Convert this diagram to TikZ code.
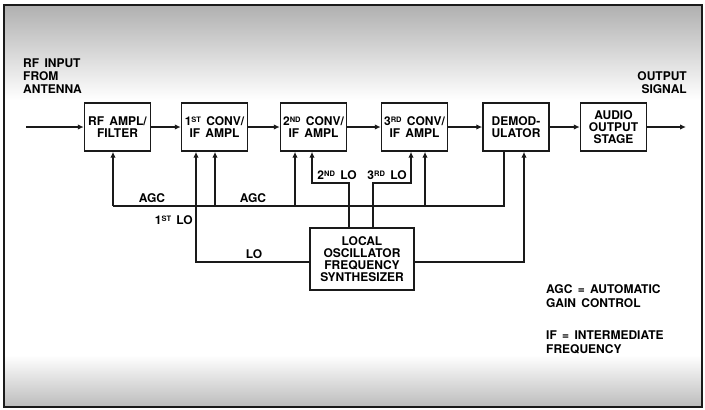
\documentclass[tikz,border=0pt]{standalone}
\usepackage{fontspec}
\setmainfont{TeX Gyre Heros}[WordSpace=1.6]
\usetikzlibrary{arrows.meta}
\definecolor{rxline}{HTML}{1A1A1A}
\definecolor{rxshade}{HTML}{B0B0B0}
\newcommand\ordsup[1]{\raisebox{3pt}{\fontsize{7.5}{7.5}\selectfont #1}}

\begin{document}
\begin{tikzpicture}[x=1pt, y=-1pt,
        box/.style={draw=rxline, line width=1.4pt, fill=white, align=center,
                    minimum width=66pt, minimum height=48pt, inner sep=1pt,
                    font=\bfseries\fontsize{12}{12}\selectfont},
        synbox/.style={box, minimum width=104pt, minimum height=62pt},
        lbl/.style={align=left, inner sep=0pt, font=\bfseries\fontsize{12}{13}\selectfont},
        note/.style={lbl, anchor=west, font=\bfseries\fontsize{12}{14}\selectfont},
        wire/.style={draw=rxline, line width=1.4pt},
        arrow/.style={wire, -{Latex[length=6pt,width=5.5pt]}}
      ]
        \useasboundingbox (0,0) rectangle (705,410);
        \shade[top color=rxshade, bottom color=white] (4,5) rectangle (702,100);
        \shade[top color=white, bottom color=rxshade!85] (4,355) rectangle (702,407);
        \draw[rxline, line width=1.5pt] (4,5) rectangle (702,407);

        \node[box]    (rfamp) at (117.5,127) {RF AMPL/\\FILTER};
        \node[box]    (conv1) at (214.5,127) {1\ordsup{ST} CONV/\\IF AMPL};
        \node[box]    (conv2) at (313.5,127) {2\ordsup{ND} CONV/\\IF AMPL};
        \node[box]    (conv3) at (414.5,127) {3\ordsup{RD} CONV/\\IF AMPL};
        \node[box]    (demod) at (516,127)   {DEMOD-\\ULATOR};
        \node[box]    (audio) at (613.5,127) {AUDIO\\OUTPUT\\STAGE};
        \node[synbox] (synth) at (362,259)   {LOCAL\\OSCILLATOR\\FREQUENCY\\SYNTHESIZER};

        \node[lbl, anchor=west] (rfin) at (23,76) {RF INPUT\\FROM\\ANTENNA};
        \node[lbl, anchor=east, align=right] (outsig) at (687,82.5) {OUTPUT\\SIGNAL};
        \coordinate (in)  at (26,127);
        \coordinate (out) at (686,127);

        \draw[arrow] (in)    -- (rfamp);
        \draw[arrow] (rfamp) -- (conv1);
        \draw[arrow] (conv1) -- (conv2);
        \draw[arrow] (conv2) -- (conv3);
        \draw[arrow] (conv3) -- (demod);
        \draw[arrow] (demod) -- (audio);
        \draw[arrow] (audio) -- (out);

        % AGC bus
        \coordinate (agcl) at (113,206);
        \coordinate (agcr) at (504,206);
        \draw[wire] (agcr |- demod.south) -- (agcr) -- (agcl);
        \foreach \x/\b in {113/rfamp,215/conv1,295/conv2,425/conv3}
          \draw[arrow] (\x,206) -- (\x,206 |- \b.south);

        % local oscillator feeds
        \draw[arrow] (synth.west |- 0,262) -| (196,0 |- conv1.south);
        \draw[arrow] (synth.east |- 0,262) -| (524,0 |- demod.south);
        \draw[arrow] (349,0 |- synth.north) |- (312,183) -- (312,0 |- conv2.south);
        \draw[arrow] (373,0 |- synth.north) |- (411,183) -- (411,0 |- conv3.south);

        \node[lbl] (agc1) at (152,198) {AGC};
        \node[lbl] (agc2) at (253,198) {AGC};
        \node[lbl, anchor=east] (lo1) at (193,220) {1\ordsup{ST} LO};
        \node[lbl] (lo)  at (254,254) {LO};
        \node[lbl] (lo2) at (337,175) {2\ordsup{ND} LO};
        \node[lbl] (lo3) at (387,175) {3\ordsup{RD} LO};
        \node[note] (agcnote) at (546,296) {AGC = AUTOMATIC\\GAIN CONTROL};
        \node[note] (ifnote)  at (546,342) {IF = INTERMEDIATE\\FREQUENCY};
      \end{tikzpicture}
\end{document}
